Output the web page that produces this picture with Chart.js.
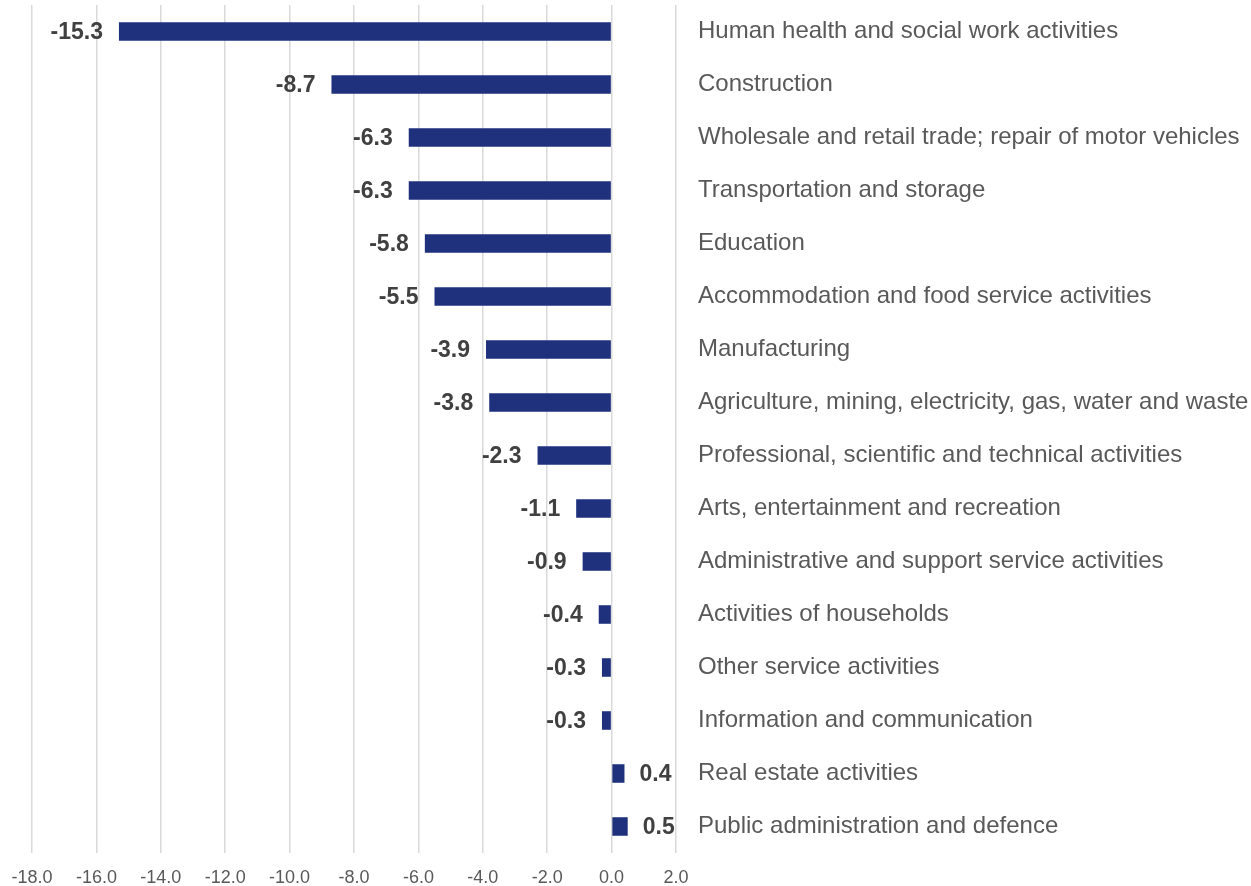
<!DOCTYPE html>
<html>
<head>
<meta charset="utf-8">
<script src="https://cdn.jsdelivr.net/npm/chart.js@4/dist/chart.umd.min.js"></script>
<style>
  html, body { margin: 0; padding: 0; background: #fff; }
  #wrap { width: 1251px; height: 886px; position: relative; }
</style>
</head>
<body>
<div id="wrap"><canvas id="chart"></canvas></div>
<script>
// categories, top to bottom
const sectors = [
    'Human health and social work activities',
    'Construction',
    'Wholesale and retail trade; repair of motor vehicles',
    'Transportation and storage',
    'Education',
    'Accommodation and food service activities',
    'Manufacturing',
    'Agriculture, mining, electricity, gas, water and waste',
    'Professional, scientific and technical activities',
    'Arts, entertainment and recreation',
    'Administrative and support service activities',
    'Activities of households',
    'Other service activities',
    'Information and communication',
    'Real estate activities',
    'Public administration and defence',
];
const changes = [-15.3, -8.7, -6.3, -6.3, -5.8, -5.5, -3.9, -3.8, -2.3, -1.1, -0.9, -0.4, -0.3, -0.3, 0.4, 0.5];
const axisMin = -18.0;
const axisMax = 2.0;
const axisStep = 2.0;

const FONT = "'Liberation Sans', Arial, sans-serif";
const barColor = '#1f317d';

// bold value next to the end of each bar
const valueLabels = {
    id: 'valueLabels',
    afterDatasetsDraw(chart) {
        const ctx = chart.ctx;
        const meta = chart.getDatasetMeta(0);
        ctx.save();
        ctx.font = 'bold 23px ' + FONT;
        ctx.fillStyle = '#404040';
        ctx.textBaseline = 'middle';
        meta.data.forEach((bar, i) => {
            const v = changes[i];
            if (v < 0) {
                ctx.textAlign = 'right';
                ctx.fillText(v.toFixed(1), bar.x - 16, bar.y + 1);
            } else {
                ctx.textAlign = 'left';
                ctx.fillText(v.toFixed(1), bar.x + 15, bar.y + 1);
            }
        });
        ctx.restore();
    }
};

new Chart(document.getElementById('chart'), {
    type: 'bar',
    data: {
        labels: sectors,
        datasets: [{
            data: changes,
            backgroundColor: barColor,
            borderWidth: 0,
            barPercentage: 0.35,
            categoryPercentage: 1.0,
        }]
    },
    options: {
        indexAxis: 'y',
        responsive: true,
        maintainAspectRatio: false,
        animation: false,
        layout: { padding: { top: 5, left: 32, right: 0, bottom: 0 } },
        plugins: {
            legend: { display: false },
            tooltip: { enabled: false },
        },
        scales: {
            x: {
                min: axisMin,
                max: axisMax,
                grid: { color: '#d9d9d9', lineWidth: 1.5, drawTicks: false },
                border: { display: false },
                ticks: {
                    stepSize: axisStep,
                    padding: 14,
                    color: '#595959',
                    font: { family: FONT, size: 18 },
                    callback: v => Number(v).toFixed(1),
                },
                afterFit: s => {
                    s.height = 33;
                    s.paddingLeft = 0;
                    s.paddingRight = 0;
                },
            },
            y: {
                position: 'right',
                grid: { display: false, drawTicks: false },
                border: { display: false },
                ticks: {
                    autoSkip: false,
                    padding: 22,
                    color: '#595959',
                    font: { family: FONT, size: 24 },
                },
                afterFit: s => {
                    s.width = 575;
                    s.paddingTop = 0;
                    s.paddingBottom = 0;
                },
            }
        }
    },
    plugins: [valueLabels]
});
</script>
</body>
</html>
